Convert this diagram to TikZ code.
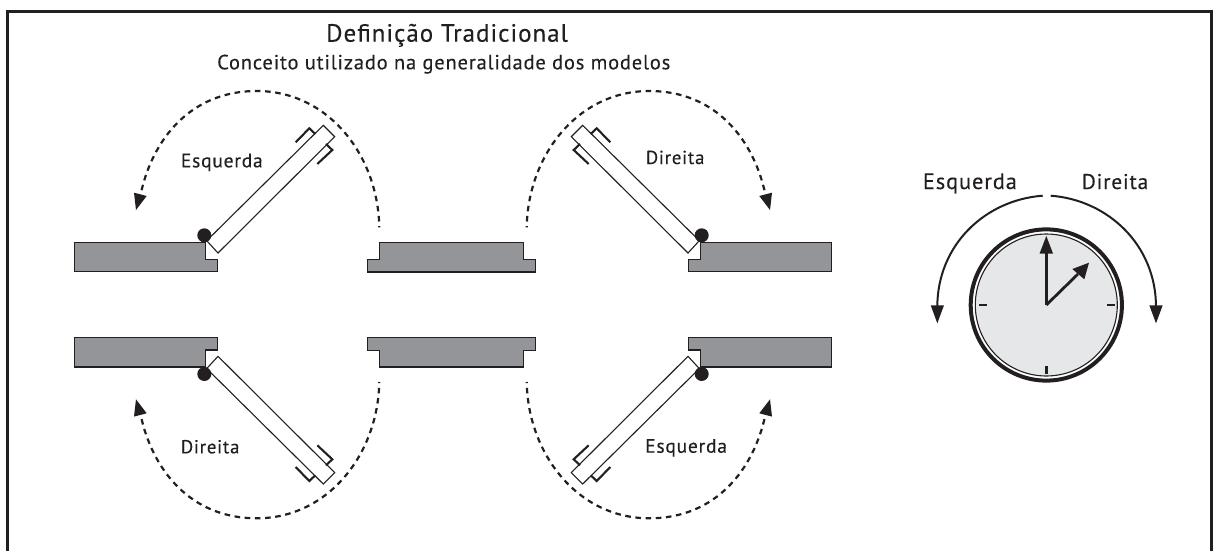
\documentclass[tikz,border=0pt]{standalone}
\usepackage{fontspec}
\setmainfont{PT Sans}
\newfontfamily\lblfont[LetterSpace=4,FakeBold=0.3]{PT Sans}
\definecolor{ink}{HTML}{231F20}
\definecolor{wallgray}{HTML}{939598}
\definecolor{faceg}{HTML}{E6E7E8}
\tikzset{
  wall/.style={draw=ink,fill=wallgray,line width=1.15pt,line join=miter},
  leaf/.style={draw=ink,fill=white,line width=1.1pt},
  bracket/.style={draw=ink,line width=2.1pt},
  swing/.style={draw=ink,line width=2.2pt,dash pattern=on 5.6pt off 4.6pt,dash phase=4.4pt},
  tiph/.style={fill=ink,draw=none},
  lbl/.style={anchor=base west,inner sep=0pt,text=ink,font=\lblfont},
  tick/.style={draw=ink,line width=2.5pt},
  hand/.style={draw=ink,line width=2.8pt},
  sweep/.style={draw=ink,line width=2pt}
}
\newcommand{\doorunit}{%
  \draw[swing] (379.3,227.3) .. controls (378,155) and (328,91) .. (256.7,91)
     .. controls (190,91) and (152,140) .. (140.5,195);
  \fill[tiph] (134,192.7) -- (146.7,196) -- (136,210) -- cycle;
  \draw[wall] (74.3,242.3) -- (205.3,242.3) -- (205.3,259.3) -- (217.7,259.3) -- (217.7,271.7) -- (74.3,271.7) -- cycle;
  \draw[leaf] (206.7,240.7) -- (218,253) -- (334.7,136.7) -- (323.3,125.3) -- cycle;
  \draw[bracket] (295.7,142.3) -- (309.3,128.3) -- (315.3,134);
  \draw[bracket] (317.3,164) -- (332.3,150) -- (326,144);
  \fill[ink] (204.3,235.3) circle (7);
}
\begin{document}
\begin{tikzpicture}[x=1pt,y=-1pt]
\useasboundingbox (0,0) rectangle (1213,551);
% frame
\draw[ink,line width=3pt,line join=miter] (7.5,551) -- (7.5,11.5) -- (1211.5,11.5) -- (1211.5,551);
% title
\node[lbl,font={\fontsize{25}{30}\selectfont\lblfont}] (title) at (326,41.7) {Definição Tradicional};
\node[lbl,font={\fontsize{20.5}{24}\selectfont\lblfont}] (subtitle) at (217,69.3) {Conceito utilizado na generalidade dos modelos};
% doors
\begin{scope}\doorunit\end{scope}
\begin{scope}[shift={(906,0)},xscale=-1]\doorunit\end{scope}
\begin{scope}[shift={(0,609.3)},yscale=-1]\doorunit\end{scope}
\begin{scope}[shift={(906,609.3)},xscale=-1,yscale=-1]\doorunit\end{scope}
% centre walls
\draw[wall] (379.7,242.3) -- (523.3,242.3) -- (523.3,259.3) -- (535.3,259.3) -- (535.3,272) -- (367.7,272) -- (367.7,259.3) -- (379.7,259.3) -- cycle;
\draw[wall] (367.7,337.5) -- (535.3,337.5) -- (535.3,350.5) -- (523.3,350.5) -- (523.3,367) -- (379.7,367) -- (379.7,350.5) -- (367.7,350.5) -- cycle;
% door labels
\node[lbl,font={\fontsize{19.5}{21}\selectfont\lblfont}] (le1) at (180.7,167.3) {Esquerda};
\node[lbl,font={\fontsize{18.8}{21}\selectfont\lblfont}] (ld1) at (645.7,164) {Direita};
\node[lbl,font={\fontsize{18.8}{21}\selectfont\lblfont}] (ld2) at (180.7,453.3) {Direita};
\node[lbl,font={\fontsize{19.5}{21}\selectfont\lblfont}] (le2) at (645,452.7) {Esquerda};
% clock
\node[lbl,font={\fontsize{22.4}{24}\selectfont\lblfont}] (ce) at (922.7,189) {Esquerda};
\node[lbl,font={\fontsize{21.3}{24}\selectfont\lblfont}] (cd) at (1081.7,189) {Direita};
\coordinate (cc) at (1046.3,305);
\fill[faceg] (cc) circle (71);
\draw[ink,line width=4pt] (cc) circle (75.6);
\draw[ink,line width=1.1pt] (cc) circle (71);
\draw[tick] (979.3,305) -- (986.7,305);
\draw[tick] (1107.3,305) -- (1115,305);
\draw[tick] (1046.3,366) -- (1046.3,374);
\draw[hand] (cc) -- (1046.3,250);
\fill[tiph] (1046.3,236) -- (1053,253.5) -- (1039.6,253.5) -- cycle;
\draw[hand] (cc) -- (1078,274);
\fill[tiph] (1089,262.7) -- (1084.3,279.3) -- (1072.3,269) -- cycle;
\draw[sweep] (1042.7,195.7) .. controls (985,200) and (937.3,245) .. (937.3,307);
\fill[tiph] (930.7,305.3) -- (944,305.3) -- (937.3,323.3) -- cycle;
\draw[sweep] (1050.7,195.7) .. controls (1108,200) and (1156,245) .. (1156,307);
\fill[tiph] (1149.3,305.3) -- (1162.7,305.3) -- (1156,323.3) -- cycle;
\end{tikzpicture}
\end{document}
